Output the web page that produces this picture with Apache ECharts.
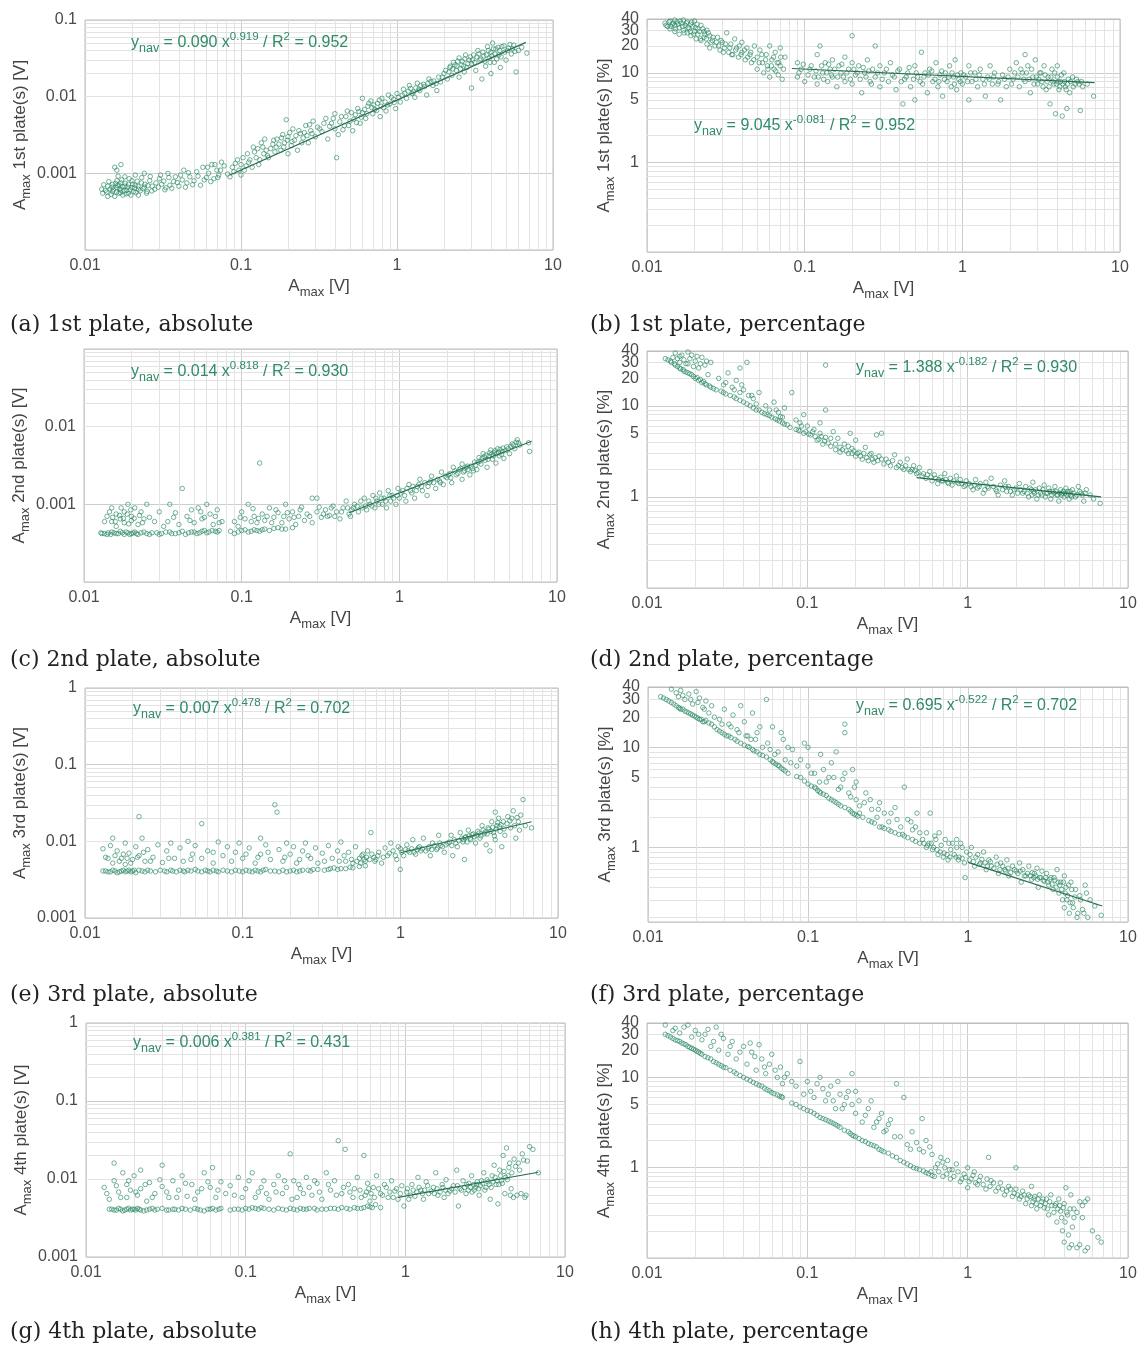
<!DOCTYPE html>
<html><head><meta charset="utf-8">
<script src="https://cdn.jsdelivr.net/npm/echarts@6/dist/echarts.min.js"></script>
<style>html,body{margin:0;padding:0;background:#fff}#c{width:1144px;height:1347px}</style>
</head><body><div id="c"></div>
<script>
// ---------------- DATA ----------------
const X_RANGE = [0.01, 10];
const X_TICK_LABELS = [0.01, 0.1, 1, 10];

const yRangeA = [0.0001, 0.1], yTicksA = [0.1, 0.01, 0.001];
const yRangeB = [0.1, 40],     yTicksB = [1, 5, 10, 20, 30, 40];
const yRangeC = [0.0001, 0.1], yTicksC = [0.01, 0.001];
const yRangeD = [0.1, 40],     yTicksD = [1, 5, 10, 20, 30, 40];
const yRangeE = [0.001, 1],    yTicksE = [1, 0.1, 0.01, 0.001];
const yRangeF = [0.18, 40],    yTicksF = [1, 5, 10, 20, 30, 40];
const yRangeG = [0.001, 1],    yTicksG = [1, 0.1, 0.01, 0.001];
const yRangeH = [0.1, 40],     yTicksH = [1, 5, 10, 20, 30, 40];

const ptsA = [[0.013,0.00055],[0.0135,0.0006],[0.014,0.0005],[0.014,0.00068],[0.0145,0.00062],[0.015,0.00058],[0.015,0.00072],[0.0155,0.0005],[0.0155,0.0012],[0.016,0.00065],[0.016,0.0008],[0.016,0.0011],[0.0165,0.00055],[0.0165,0.0007],[0.017,0.0006],[0.017,0.00075],[0.017,0.0013],[0.0175,0.00052],[0.018,0.00068],[0.018,0.0009],[0.0185,0.0006],[0.019,0.00072],[0.019,0.00055],[0.02,0.00065],[0.02,0.0008],[0.0205,0.00058],[0.021,0.0007],[0.021,0.00095],[0.022,0.00062],[0.022,0.00052],[0.023,0.00075],[0.024,0.00066],[0.024,0.001],[0.025,0.00058],[0.026,0.0008],[0.027,0.00068],
[0.028,0.00062],[0.03,0.00085],[0.031,0.00072],[0.033,0.00065],[0.034,0.001],[0.035,0.0007],[0.037,0.00078],[0.038,0.0009],[0.04,0.00068],[0.042,0.00082],[0.043,0.0011],[0.045,0.00075],[0.047,0.0009],[0.05,0.0008],[0.052,0.00105],[0.055,0.0007],[0.057,0.0012],[0.06,0.00088],[0.062,0.001],[0.065,0.0013],[0.067,0.00085],[0.07,0.0011],[0.072,0.00095],[0.075,0.0014],
[0.085,0.0009],[0.088,0.0012],[0.09,0.00105],[0.095,0.0015],[0.1,0.00095],[0.1,0.0013],[0.105,0.0011],[0.11,0.0018],[0.112,0.0014],[0.118,0.0012],[0.12,0.0022],[0.125,0.0016],[0.13,0.0013],[0.135,0.0025],[0.14,0.0018],[0.145,0.002],[0.15,0.0016],
[0.16,0.0024],[0.165,0.0019],[0.17,0.0028],[0.18,0.002],[0.185,0.0032],[0.19,0.0025],[0.195,0.005],[0.2,0.0018],[0.2,0.003],[0.21,0.0023],[0.215,0.0038],[0.22,0.0027],[0.23,0.002],[0.24,0.0033],[0.25,0.0029],[0.26,0.0042],[0.27,0.0025],[0.28,0.0036],[0.29,0.0048],[0.3,0.003],
[0.31,0.004],[0.33,0.0035],[0.35,0.0052],[0.36,0.0028],[0.38,0.0045],[0.4,0.0038],[0.4,0.006],[0.41,0.0016],[0.42,0.0032],[0.44,0.0055],[0.46,0.0042],[0.48,0.0065],[0.5,0.0048],[0.52,0.0036],[0.54,0.0058],[0.56,0.007],[0.58,0.0045],[0.6,0.0062],[0.6,0.0095],
[0.63,0.0052],[0.65,0.0075],[0.68,0.0088],[0.7,0.006],[0.72,0.0068],[0.75,0.0082],[0.78,0.0055],[0.8,0.0095],[0.82,0.0072],[0.85,0.0065],[0.88,0.0105],[0.9,0.008],[0.95,0.0092],[0.98,0.007],
[1,0.011],[1.05,0.0085],[1.1,0.0125],[1.15,0.0095],[1.2,0.014],[1.25,0.011],[1.3,0.0098],[1.35,0.015],[1.4,0.012],[1.5,0.0135],[1.55,0.0105],[1.6,0.017],[1.7,0.014],[1.8,0.012],[1.85,0.018],[1.9,0.0155],[2,0.02],
[2.1,0.017],[2.2,0.025],[2.25,0.019],[2.3,0.028],[2.4,0.022],[2.5,0.032],[2.5,0.018],[2.6,0.026],[2.7,0.021],[2.75,0.035],[2.8,0.024],[2.9,0.03],[3,0.027],[3,0.013],
[3.1,0.035],[3.2,0.022],[3.3,0.04],[3.4,0.03],[3.5,0.017],[3.6,0.034],[3.7,0.025],[3.8,0.045],[3.9,0.032],[4,0.038],[4,0.02],[4.1,0.05],[4.2,0.028],[4.3,0.042],[4.5,0.035],[4.6,0.024],[4.7,0.045],[4.9,0.038],[5,0.03],
[5.2,0.043],[5.4,0.036],[5.6,0.047],[5.8,0.021],[6,0.04],[6.3,0.044],[6.8,0.037],
[0.0128,0.00062],[0.0132,0.00071],[0.0138,0.00057],[0.0142,0.00078],[0.0147,0.00053],[0.0149,0.00066],[0.0152,0.00061],[0.0157,0.00074],[0.0159,0.00057],[0.0161,0.00069],[0.0163,0.00092],[0.0167,0.00063],[0.0169,0.00056],[0.0172,0.00082],[0.0174,0.00067],[0.0178,0.00059],[0.0181,0.00074],[0.0183,0.00054],[0.0188,0.00066],[0.0192,0.00085],[0.0194,0.00061],[0.0197,0.00052],[0.0202,0.00072],[0.0208,0.00064],[0.0212,0.00056],[0.0216,0.00079],[0.0219,0.00068],[0.0226,0.00059],[0.0231,0.00088],[0.0236,0.00063],[0.0242,0.00072],[0.0248,0.00055],[0.0253,0.00069],[0.0262,0.00091],[0.0268,0.00059],
[0.0285,0.00075],[0.0295,0.00066],[0.0305,0.00095],[0.032,0.00079],[0.0325,0.00061],[0.0345,0.00088],[0.036,0.00064],[0.039,0.00076],[0.041,0.00095],[0.044,0.00066],[0.046,0.00102],[0.049,0.00071],[0.053,0.00092],[0.058,0.00082],[0.061,0.0012],[0.064,0.00078],[0.068,0.0013],[0.071,0.00088],[0.074,0.0011],[0.078,0.00125],
[0.082,0.00098],[0.092,0.00135],[0.097,0.0011],[0.103,0.0016],[0.108,0.00125],[0.114,0.0015],[0.122,0.0019],[0.128,0.0021],[0.132,0.0015],[0.138,0.0022],[0.142,0.0028],[0.148,0.0017],[0.155,0.0021],[0.162,0.0027],[0.168,0.0022],[0.175,0.0024],[0.182,0.0029],[0.188,0.0022],[0.198,0.0027],[0.205,0.0034],[0.212,0.0026],[0.225,0.0031],[0.235,0.0036],[0.245,0.0025],[0.255,0.0034],[0.265,0.0031],[0.275,0.0043],[0.285,0.0033],[0.32,0.0038],[0.34,0.0045],[0.37,0.0041],[0.39,0.0052],[0.43,0.0047],[0.45,0.0037],[0.47,0.0055],[0.49,0.0042],[0.51,0.0062],[0.53,0.0051],[0.55,0.0046],[0.57,0.0064],[0.59,0.0054],[0.62,0.0068],[0.64,0.006],[0.66,0.0082],[0.69,0.0072],[0.71,0.0078],[0.74,0.0066],[0.77,0.009],[0.79,0.0075],[0.84,0.0085],[0.87,0.0078],[0.92,0.0098],[0.96,0.0084],
[1.02,0.0098],[1.08,0.0105],[1.12,0.011],[1.18,0.0118],[1.22,0.0128],[1.28,0.0115],[1.32,0.013],[1.38,0.0125],[1.42,0.014],[1.48,0.0145],[1.58,0.015],[1.65,0.0158],[1.72,0.016],[1.78,0.0148],[1.95,0.018],[2.05,0.022],[2.15,0.021],[2.18,0.024],[2.28,0.023],[2.35,0.026],[2.42,0.025],[2.45,0.029],[2.55,0.023],[2.62,0.029],[2.68,0.025],[2.72,0.031],[2.85,0.027],[2.95,0.033],[3.05,0.03],[3.15,0.028],[3.25,0.033],[3.35,0.036],[3.45,0.031],[3.55,0.038],[3.65,0.029],[3.75,0.035],[3.85,0.04],[3.95,0.028],[4.05,0.034],[4.15,0.042],[4.25,0.036],[4.35,0.031],[4.45,0.044],[4.55,0.04],[4.65,0.033],[4.85,0.046],[5.1,0.04],[5.3,0.048],[5.5,0.042],[5.7,0.039]];

const ptsB = [[0.013,36],[0.0135,33],[0.014,38],[0.014,31],[0.0145,35],[0.015,39],[0.015,29],[0.015,34],[0.0155,37],[0.016,32],[0.016,27],[0.0165,36],[0.017,30],[0.017,39],[0.0175,34],[0.018,28],[0.018,37],[0.0185,31],[0.019,35],[0.019,26],[0.0195,33],[0.02,29],[0.02,38],[0.0205,24],[0.021,31],[0.021,27],[0.022,34],[0.022,23],[0.023,29],[0.023,25],[0.024,21],[0.024,30],[0.025,26],[0.025,19],
[0.026,23],[0.027,20],[0.028,25],[0.029,18],[0.03,22],[0.031,19],[0.032,28],[0.033,17],[0.034,21],[0.035,16],[0.036,24],[0.037,19],[0.038,15],[0.04,17],[0.04,22],[0.042,14],[0.043,19],[0.045,16],[0.046,13],[0.048,20],[0.05,15],[0.05,11],
[0.052,18],[0.054,13],[0.055,10],[0.057,16],[0.058,12],[0.06,20],[0.06,9],[0.062,14],[0.064,11],[0.065,17],[0.067,13],[0.068,9.5],[0.07,19],[0.07,12],[0.072,8.5],[0.075,15],[0.09,13],[0.09,9],[0.095,11],[0.1,8],
[0.11,12],[0.115,9],[0.12,16],[0.12,7.5],[0.125,20],[0.13,10],[0.135,13],[0.14,8],[0.145,11],[0.15,14],[0.15,9],[0.16,7],[0.165,12],[0.17,10],[0.18,15],[0.18,8],[0.19,11],[0.2,26],[0.2,13],[0.2,7.5],[0.21,9.5],[0.22,12],[0.23,6],[0.24,10],[0.25,14],[0.26,8],[0.27,11],[0.28,20],[0.28,9],[0.3,12],[0.3,7],
[0.32,10],[0.34,8],[0.35,13],[0.37,9],[0.38,6.5],[0.4,11],[0.42,4.5],[0.43,8.5],[0.45,10],[0.47,7],[0.5,12],[0.5,5],[0.52,9],[0.55,17],[0.56,7.5],[0.58,10],[0.6,6],[0.62,11],[0.65,8],[0.68,13],[0.7,7],[0.72,9.5],[0.75,5.5],[0.78,10],[0.8,8],[0.83,12],[0.85,7],[0.88,9],[0.9,14],[0.92,6.5],[0.95,8.5],[0.98,10],
[1,7.5],[1.05,9],[1.1,12],[1.1,5],[1.15,8],[1.2,10],[1.25,7],[1.3,11],[1.35,8.5],[1.4,5.5],[1.45,9],[1.5,12],[1.55,7.5],[1.6,10],[1.7,8],[1.75,5],[1.8,9.5],[1.9,7],[2,11],[2.1,8.5],[2.2,13],[2.3,7],[2.4,10],[2.5,16],[2.5,8],[2.6,12],[2.7,6],[2.8,9],[2.9,14],[3,7.5],
[3.1,10],[3.2,8],[3.3,12],[3.4,6.5],[3.5,9],[3.6,4.5],[3.7,11],[3.8,7.5],[3.9,3.5],[4,9],[4,12],[4.1,6.5],[4.2,8],[4.3,3.3],[4.4,10],[4.5,7],[4.6,4],[4.7,8.5],[4.8,6],[5,9],[5.2,7.5],[5.4,8],[5.6,3.8],[5.8,7],[6.2,7.5],[6.8,5.5],
[0.0132,34],[0.0138,37],[0.0142,33],[0.0147,36],[0.0152,31],[0.0158,35],[0.0162,38],[0.0168,33],[0.0172,28],[0.0178,36],[0.0182,32],[0.0188,29],[0.0192,37],[0.0198,27],[0.0203,32],[0.0208,35],[0.0215,29],[0.0218,24],[0.0226,31],[0.0232,27],[0.0238,24],[0.0245,28],[0.0255,22],[0.0262,25],[0.0275,22],[0.0285,20],[0.0295,23],[0.0305,17],[0.0315,21],[0.0335,19],[0.0345,16],[0.0365,18],[0.0385,20],[0.0395,16],[0.0415,18],[0.0435,15],[0.0455,17],[0.0475,14],[0.0515,13],[0.0535,16],[0.0565,14],[0.0585,11],[0.0615,12],[0.0635,15],[0.0655,10.5],[0.0685,13],[0.0705,15],[0.0735,11],
[0.092,10],[0.098,12.5],[0.105,9.5],[0.108,11],[0.118,10.5],[0.122,9],[0.128,12],[0.132,8.5],[0.138,10],[0.142,12.5],[0.148,9.5],[0.155,11],[0.162,9],[0.172,12.5],[0.176,9],[0.185,10],[0.195,8.5],[0.205,11],[0.215,10],[0.225,8.5],[0.235,11.5],[0.245,9],[0.255,10.5],[0.265,7.5],[0.29,10],[0.31,8.5],[0.33,11],[0.36,9.5],[0.39,10.5],[0.41,8],[0.44,9],[0.46,11.5],[0.49,8.5],[0.51,10],[0.54,8],[0.57,9],[0.61,9.5],[0.64,10.5],[0.67,8.5],[0.71,8],[0.74,10.5],[0.77,8.5],[0.82,9],[0.86,10],[0.89,7.5],[0.93,9.5],[0.97,8],
[1.02,9.5],[1.08,8],[1.13,10],[1.22,8.5],[1.28,9.5],[1.38,7.5],[1.48,8.5],[1.58,9],[1.68,7.5],[1.85,8.5],[1.95,9],[2.05,7.5],[2.15,10],[2.25,9],[2.35,11],[2.45,8.5],[2.55,10],[2.65,8.5],[2.75,11],[2.85,7.5],[2.95,9],[3.05,8.5],[3.15,10],[3.25,7],[3.35,9.5],[3.45,8],[3.55,7],[3.65,9],[3.75,8],[3.85,10],[3.95,7.5],[4.05,8],[4.15,7],[4.25,9.5],[4.35,7.5],[4.45,8],[4.55,6.5],[4.65,7.5],[4.85,8],[5.05,7],[5.3,8.5],[5.5,7.5],[5.7,8]];

const ptsC = [[0.013,0.00042],[0.014,0.00041],[0.015,0.00044],[0.016,0.00042],[0.017,0.00045],[0.018,0.00041],[0.019,0.00043],[0.02,0.00042],[0.021,0.00044],[0.022,0.00041],[0.023,0.00043],[0.025,0.00042],
[0.014,0.0007],[0.015,0.0006],[0.015,0.0009],[0.016,0.00075],[0.016,0.00052],[0.017,0.00065],[0.018,0.0008],[0.018,0.00058],[0.019,0.001],[0.02,0.0007],[0.02,0.00062],[0.021,0.0009],[0.022,0.00055],[0.023,0.0008],[0.024,0.00065],[0.025,0.001],
[0.027,0.00043],[0.03,0.00041],[0.033,0.00044],[0.036,0.00042],[0.04,0.00043],[0.044,0.00041],[0.048,0.00044],[0.052,0.00042],[0.056,0.00045],[0.06,0.00043],[0.065,0.00046],[0.07,0.00044],
[0.028,0.0006],[0.03,0.0008],[0.032,0.00052],[0.035,0.001],[0.037,0.00068],[0.04,0.00055],[0.042,0.0016],[0.045,0.0007],[0.048,0.00085],[0.05,0.00058],[0.053,0.0009],[0.056,0.00065],[0.06,0.001],[0.063,0.00075],[0.066,0.00055],[0.07,0.00085],[0.075,0.0006],
[0.085,0.00045],[0.09,0.00042],[0.1,0.00046],[0.11,0.00044],[0.12,0.00047],[0.13,0.00045],[0.14,0.00048],[0.15,0.00046],[0.17,0.0005],[0.19,0.00048],
[0.09,0.0006],[0.095,0.00052],[0.1,0.0008],[0.105,0.00065],[0.11,0.001],[0.12,0.0007],[0.125,0.00058],[0.13,0.0034],[0.135,0.00075],[0.14,0.00062],[0.15,0.0009],[0.16,0.00068],[0.17,0.00078],[0.18,0.00058],[0.19,0.001],[0.2,0.00065],
[0.21,0.0008],[0.22,0.00055],[0.23,0.0007],[0.24,0.00092],[0.25,0.00062],[0.26,0.00075],[0.28,0.0012],[0.28,0.00058],[0.3,0.0012],[0.3,0.0008],[0.32,0.00068],[0.34,0.00085],[0.36,0.00072],[0.38,0.00095],[0.4,0.0008],[0.42,0.00065],[0.44,0.0009],[0.46,0.0011],[0.48,0.00075],[0.5,0.00085],
[0.52,0.001],[0.55,0.0008],[0.58,0.0009],[0.6,0.0012],[0.62,0.00085],[0.65,0.001],[0.68,0.0013],[0.7,0.0009],[0.72,0.0011],[0.75,0.0014],[0.78,0.001],[0.8,0.0012],[0.83,0.0009],[0.85,0.0015],[0.88,0.0011],[0.9,0.0013],[0.95,0.001],[0.98,0.0016],
[1,0.0012],[1.05,0.0015],[1.1,0.0011],[1.15,0.0018],[1.2,0.0014],[1.25,0.0012],[1.3,0.0017],[1.35,0.0021],[1.4,0.0015],[1.5,0.0013],[1.55,0.0019],[1.6,0.0023],[1.7,0.0016],[1.8,0.002],[1.85,0.0026],[1.9,0.0018],[2,0.0022],
[2.1,0.0025],[2.15,0.0019],[2.2,0.003],[2.3,0.0024],[2.4,0.0028],[2.5,0.0021],[2.5,0.0033],[2.6,0.0027],[2.7,0.0031],[2.8,0.0024],[2.9,0.0029],[3,0.0035],
[3.1,0.0028],[3.2,0.004],[3.3,0.0033],[3.4,0.0045],[3.5,0.0037],[3.6,0.003],[3.7,0.0042],[3.8,0.005],[3.9,0.0038],[4,0.0046],[4.1,0.0034],[4.2,0.0052],[4.3,0.0042],[4.5,0.0048],[4.6,0.0039],[4.8,0.0055],[5,0.0045],[5.2,0.006],[5.4,0.0052],[5.6,0.0068],[5.8,0.0058],[6.6,0.0062],[6.7,0.0048],
[0.0128,0.00043],[0.0135,0.00042],[0.0142,0.00043],[0.0148,0.00041],[0.0155,0.00043],[0.0165,0.00042],[0.0175,0.00043],[0.0185,0.00044],[0.0195,0.00041],[0.0205,0.00043],[0.0215,0.00042],[0.024,0.00044],[0.026,0.00041],[0.029,0.00043],[0.031,0.00042],[0.035,0.00044],[0.038,0.00042],[0.042,0.00045],[0.046,0.00043],[0.05,0.00044],[0.054,0.00043],[0.058,0.00046],[0.062,0.00044],[0.068,0.00045],[0.072,0.00046],[0.095,0.00044],[0.105,0.00047],[0.115,0.00045],[0.125,0.00046],[0.135,0.00047],[0.16,0.00049],[0.18,0.00048],[0.21,0.0005],
[0.0135,0.0006],[0.0145,0.0008],[0.0152,0.00068],[0.0158,0.0006],[0.0168,0.00072],[0.0172,0.0009],[0.0178,0.00066],[0.0188,0.00075],[0.0192,0.00056],[0.0198,0.00085],[0.0208,0.00066],[0.0225,0.00072],[0.0235,0.00058],[0.026,0.00068],[0.034,0.0006],[0.038,0.00078],[0.047,0.00062],[0.055,0.0008],[0.058,0.00068],[0.068,0.0007],[0.072,0.00058],[0.098,0.00068],[0.115,0.0006],[0.118,0.00088],[0.128,0.00066],[0.145,0.0007],[0.155,0.00058],[0.165,0.00085],[0.185,0.0007],[0.195,0.00078],[0.215,0.00068],[0.235,0.00085],[0.27,0.0007],[0.31,0.00092],[0.33,0.00075],[0.35,0.0007],[0.37,0.0009],[0.39,0.0007],[0.43,0.0008],[0.47,0.0009],[0.49,0.0007],
[0.51,0.0009],[0.54,0.00095],[0.57,0.0011],[0.61,0.00095],[0.64,0.0011],[0.67,0.00095],[0.71,0.0012],[0.74,0.001],[0.77,0.0012],[0.82,0.0011],[0.87,0.0013],[0.92,0.0012],[0.97,0.0013],[1.02,0.0014],[1.08,0.0013],[1.12,0.0016],[1.18,0.0015],[1.22,0.0017],[1.28,0.0015],[1.33,0.0018],[1.38,0.0017],[1.45,0.0019],[1.52,0.0017],[1.58,0.002],[1.65,0.0019],[1.75,0.0021],[1.82,0.0019],[1.95,0.0023],[2.05,0.0024],[2.12,0.0022],[2.25,0.0027],[2.35,0.0025],[2.45,0.0029],[2.55,0.0026],[2.65,0.003],[2.72,0.0028],[2.85,0.0031],[2.95,0.0027],[3.05,0.0032],[3.15,0.0035],[3.25,0.0036],[3.35,0.0039],[3.45,0.0041],[3.55,0.0043],[3.65,0.0038],[3.75,0.0046],[3.85,0.0044],[3.95,0.0042],[4.05,0.0049],[4.15,0.0045],[4.25,0.0047],[4.35,0.0051],[4.45,0.0044],[4.55,0.0053],[4.7,0.0049],[4.9,0.0052],[5.1,0.0056],[5.3,0.0058],[5.5,0.0063],[5.7,0.0062]];

const ptsD = [[0.013,33],[0.014,31],[0.015,28],[0.016,26],[0.017,24],[0.018,23],[0.019,22],[0.02,20],[0.021,19],[0.022,18],[0.023,17.5],[0.025,16],
[0.015,38],[0.016,35],[0.017,32],[0.018,29],[0.019,36],[0.02,31],[0.021,26],[0.022,34],[0.023,28],[0.024,22],[0.025,30],[0.016,30],[0.0145,34],[0.018,39],
[0.027,15],[0.03,14],[0.033,13],[0.036,12],[0.04,11],[0.044,10],[0.048,9],
[0.028,20],[0.03,17],[0.032,23],[0.034,16],[0.036,19],[0.038,14],[0.04,15],[0.042,30],[0.043,13],[0.046,12],[0.05,14],[0.048,10.5],[0.038,26],
[0.052,8.5],[0.056,8],[0.06,7.5],[0.065,7],[0.07,6.5],[0.075,6.2],[0.085,5.5],[0.09,5.3],[0.095,5],
[0.055,10],[0.058,9],[0.062,11],[0.066,8.5],[0.07,7.5],[0.072,9.5],[0.08,14],[0.085,7],[0.09,6.5],[0.095,8],[0.1,6],
[0.105,4.8],[0.11,5.5],[0.115,4.2],[0.12,5],[0.12,6.5],[0.125,3.8],[0.13,9],[0.13,4.5],[0.13,28],[0.14,3.6],[0.145,5.2],[0.15,3.3],[0.155,4.4],[0.16,3.1],[0.17,3.8],[0.18,3.0],[0.185,5],[0.19,3.4],[0.2,2.8],[0.2,4.2],
[0.21,3.1],[0.22,2.6],[0.23,3.5],[0.24,2.5],[0.25,3],[0.26,2.4],[0.27,4.8],[0.28,2.8],[0.29,5],[0.3,2.3],[0.31,2.6],[0.33,2.2],[0.35,2.9],[0.36,2.1],[0.38,2.4],[0.4,2],[0.42,2.6],[0.44,1.9],[0.46,2.2],[0.48,1.8],[0.5,2.1],
[0.52,1.7],[0.55,1.6],[0.58,1.9],[0.6,1.5],[0.62,1.75],[0.65,1.4],[0.68,1.65],[0.7,1.5],[0.72,1.8],[0.75,1.45],[0.78,1.6],[0.8,1.35],[0.85,1.7],[0.88,1.4],[0.9,1.55],[0.95,1.3],[0.98,1.5],
[1.02,1.4],[1.08,1.2],[1.12,1.55],[1.18,1.3],[1.25,1.1],[1.3,1.45],[1.35,1.25],[1.4,1.6],[1.5,1.2],[1.55,1.05],[1.6,1.35],[1.7,1.5],[1.75,1.15],[1.8,1.3],[1.9,1.05],[2,1.25],[2.1,1.4],[2.2,1.1],[2.3,1.3],[2.4,1.0],[2.5,1.2],[2.55,1.45],[2.6,1.1],[2.7,0.95],[2.8,1.25],[2.9,1.05],[3,1.35],
[3.1,1.1],[3.2,1.25],[3.3,0.95],[3.4,1.15],[3.5,1.3],[3.6,1.05],[3.7,0.9],[3.8,1.2],[3.9,1.1],[4,1.0],[4.1,1.25],[4.2,1.15],[4.3,0.95],[4.4,1.05],[4.5,1.2],[4.7,1.0],[4.9,1.3],[5.1,1.1],[5.3,0.9],[5.5,1.2],[5.8,1.05],[6.1,0.95],[6.7,0.85],
[0.0135,32],[0.0142,30],[0.0148,29],[0.0155,27],[0.0162,25.5],[0.0168,25],[0.0175,23.5],[0.0185,22.5],[0.0195,21],[0.0205,20.5],[0.0215,19.5],[0.0225,18.5],[0.0235,17],[0.0245,16.5],[0.026,15.5],[0.0155,33],[0.0165,36],[0.0175,29],[0.0185,33],[0.0195,27],[0.0205,35],[0.0215,29],[0.0235,31],
[0.029,14.5],[0.031,13.5],[0.035,12.5],[0.038,11.5],[0.042,10.5],[0.046,9.5],[0.05,9],[0.031,18],[0.035,15],[0.039,17],[0.045,13],[0.054,8.2],[0.058,7.8],[0.063,7.2],[0.067,6.8],[0.072,6.3],[0.068,7.6],[0.064,9],[0.078,5.8],[0.088,5.4],[0.092,6],[0.098,5.2],
[0.102,4.9],[0.108,5.2],[0.112,4.6],[0.118,4.3],[0.122,4.6],[0.128,4.1],[0.135,3.9],[0.14,4.4],[0.15,3.8],[0.16,3.5],[0.165,3.3],[0.175,3.2],[0.18,3.6],[0.19,3],[0.195,3.2],[0.205,3],[0.215,2.8],[0.225,3],[0.235,2.7],[0.245,2.9],[0.255,2.6],[0.265,2.7],[0.275,2.5],[0.29,2.6],[0.32,2.4],[0.34,2.5],[0.37,2.2],[0.39,2.1],[0.41,2.2],[0.43,2.0],[0.45,2.0],[0.47,1.95],[0.49,1.85],
[0.53,1.8],[0.56,1.75],[0.59,1.65],[0.63,1.6],[0.66,1.55],[0.69,1.5],[0.73,1.55],[0.76,1.4],[0.82,1.5],[0.86,1.45],[0.92,1.4],[0.97,1.35],[1.05,1.3],[1.1,1.35],[1.15,1.25],[1.2,1.4],[1.28,1.2],[1.33,1.3],[1.45,1.3],[1.52,1.15],[1.65,1.2],[1.72,1.3],[1.85,1.15],[1.95,1.2],[2.05,1.1],[2.15,1.2],[2.25,1.15],[2.35,1.1],[2.45,1.25],[2.52,1.05],[2.58,1.15],[2.65,1.2],[2.75,1.05],[2.85,1.1],[2.95,1.2],
[3.05,1.0],[3.15,1.1],[3.25,1.15],[3.35,1.05],[3.45,1.1],[3.55,1.15],[3.65,1.05],[3.75,1.1],[3.85,1.05],[3.95,1.15],[4.05,1.1],[4.15,1.05],[4.25,1.1],[4.35,1.15],[4.45,1.0],[4.6,1.1],[4.8,1.05],[5.0,1.15],[5.2,1.05],[5.4,1.1]];

const ptsE = [[0.013,0.0041],[0.014,0.004],[0.015,0.0042],[0.016,0.0039],[0.017,0.0041],[0.018,0.004],[0.019,0.0042],[0.02,0.0041],[0.021,0.0039],[0.022,0.0042],[0.024,0.004],[0.026,0.0041],[0.03,0.0042],[0.033,0.004],[0.036,0.0041],[0.04,0.0042],[0.043,0.004],[0.047,0.0041],[0.05,0.0043],[0.055,0.004],[0.06,0.0041],[0.065,0.0042],[0.07,0.004],[0.08,0.0041],[0.09,0.0042],[0.1,0.004],[0.11,0.0041],[0.12,0.0042],[0.13,0.004],[0.14,0.0043],[0.15,0.0041],[0.17,0.004],[0.18,0.0042],[0.2,0.0041],[0.22,0.004],[0.24,0.0042],[0.27,0.0041],[0.3,0.0043],[0.33,0.0042],[0.36,0.0044],[0.4,0.0043],[0.45,0.0044],[0.5,0.0045],
[0.013,0.008],[0.014,0.006],[0.015,0.011],[0.015,0.0052],[0.016,0.0075],[0.017,0.006],[0.018,0.0095],[0.018,0.005],[0.019,0.007],[0.02,0.0058],[0.021,0.0085],[0.022,0.021],[0.022,0.0065],[0.023,0.011],[0.024,0.0055],[0.025,0.0078],[0.027,0.0062],[0.029,0.009],[0.031,0.0053],[0.033,0.0075],[0.035,0.0095],[0.037,0.006],[0.04,0.0082],[0.042,0.0055],[0.045,0.01],[0.048,0.0068],[0.05,0.0088],[0.055,0.017],[0.055,0.006],[0.06,0.0075],[0.065,0.0052],[0.07,0.0098],[0.075,0.0065],[0.08,0.0085],[0.085,0.0055],[0.09,0.0072],[0.095,0.0095],[0.1,0.006],[0.11,0.0082],[0.12,0.0052],[0.13,0.011],[0.13,0.0068],[0.14,0.009],[0.15,0.0058],[0.16,0.03],[0.165,0.024],[0.17,0.0078],[0.18,0.0055],[0.19,0.0095],[0.2,0.0068],[0.21,0.0085],[0.22,0.0052],[0.24,0.0075],[0.25,0.0095],[0.27,0.006],[0.29,0.0082],[0.3,0.0052],[0.32,0.007],[0.35,0.0088],[0.37,0.006],[0.4,0.0075],[0.42,0.0098],[0.45,0.0055],[0.47,0.0072],[0.5,0.0052],[0.52,0.0085],[0.55,0.006],[0.58,0.0068],[0.6,0.0055],[0.62,0.0075],[0.65,0.013],[0.68,0.0062],[0.7,0.0058],[0.73,0.0072],[0.76,0.0052],[0.8,0.0082],[0.83,0.0065],[0.87,0.0095],[0.9,0.0075],[0.95,0.0058],[1,0.0043],[1,0.008],
[1.05,0.0065],[1.1,0.009],[1.15,0.0072],[1.2,0.0105],[1.25,0.0068],[1.3,0.0082],[1.35,0.0075],[1.4,0.011],[1.5,0.008],[1.55,0.0065],[1.6,0.0095],[1.7,0.0078],[1.75,0.012],[1.8,0.0088],[1.9,0.0072],[2,0.0095],
[2.1,0.012],[2.15,0.0065],[2.2,0.0105],[2.3,0.0085],[2.4,0.013],[2.5,0.0098],[2.55,0.0058],[2.6,0.0115],[2.7,0.014],[2.8,0.0105],[2.9,0.0125],[3,0.0095],
[3.1,0.0135],[3.2,0.011],[3.3,0.016],[3.4,0.0125],[3.5,0.009],[3.6,0.015],[3.7,0.0075],[3.8,0.018],[3.9,0.013],[4,0.024],[4,0.0105],[4.1,0.016],[4.2,0.02],[4.3,0.0135],[4.4,0.0085],[4.5,0.018],[4.6,0.012],[4.8,0.021],[5,0.015],[5.2,0.025],[5.4,0.011],[5.6,0.018],[5.8,0.022],[6,0.035],[6.2,0.016],[6.8,0.015],
[0.0135,0.0041],[0.0145,0.004],[0.0155,0.0041],[0.0165,0.004],[0.0175,0.0042],[0.0185,0.0041],[0.0195,0.004],[0.0205,0.0042],[0.023,0.0041],[0.025,0.0042],[0.028,0.004],[0.032,0.0041],[0.035,0.0042],[0.038,0.004],[0.042,0.0041],[0.045,0.0042],[0.052,0.0041],[0.058,0.0042],[0.062,0.004],[0.068,0.0041],[0.075,0.0042],[0.085,0.004],[0.095,0.0041],[0.105,0.0042],[0.115,0.004],[0.125,0.0041],[0.135,0.0042],[0.16,0.0041],[0.19,0.004],[0.21,0.0042],[0.23,0.0041],[0.26,0.0042],[0.28,0.0043],[0.35,0.0043],[0.38,0.0045],[0.42,0.0044],[0.48,0.0046],[0.55,0.0047],[0.6,0.0048],
[0.0135,0.0062],[0.0145,0.0088],[0.0155,0.0065],[0.0165,0.0055],[0.0175,0.0068],[0.0185,0.006],[0.0195,0.0052],[0.0215,0.0062],[0.0235,0.0072],[0.026,0.0055],[0.034,0.006],[0.047,0.0058],[0.065,0.0072],[0.105,0.0068],[0.125,0.0062],[0.145,0.0072],[0.185,0.0062],[0.23,0.0058],[0.26,0.0065],[0.33,0.0055],[0.41,0.0055],[0.44,0.0065],[0.49,0.0058],[0.53,0.0055],[0.56,0.0052],[0.57,0.0065],[0.59,0.0058],[0.61,0.0062],[0.64,0.0058],[0.66,0.0068],[0.69,0.0055],[0.72,0.0065],[0.78,0.0062],[0.85,0.007],[0.93,0.0065],[0.97,0.0085],
[1.02,0.0072],[1.08,0.0078],[1.12,0.0075],[1.18,0.008],[1.22,0.0072],[1.28,0.0078],[1.32,0.0085],[1.38,0.008],[1.45,0.0075],[1.52,0.0085],[1.58,0.0078],[1.65,0.0088],[1.72,0.0082],[1.78,0.0095],[1.85,0.0085],[1.95,0.009],[2.05,0.0098],[2.12,0.0088],[2.25,0.0095],[2.35,0.0102],[2.45,0.011],[2.52,0.0105],[2.58,0.0112],[2.65,0.0098],[2.72,0.0118],[2.78,0.011],[2.85,0.0122],[2.95,0.0115],[3.05,0.012],[3.15,0.0128],[3.25,0.0118],[3.35,0.014],[3.45,0.0132],[3.55,0.0125],[3.65,0.0145],[3.75,0.0135],[3.85,0.0152],[3.95,0.0118],[4.05,0.0145],[4.15,0.0175],[4.25,0.0155],[4.35,0.0165],[4.55,0.0145],[4.75,0.017],[4.95,0.0185],[5.1,0.02],[5.3,0.016],[5.5,0.0205],[5.7,0.014]];

const ptsF = [[0.012,32],[0.013,30],[0.014,28],[0.015,26],[0.0155,25],[0.016,24],[0.017,23],[0.018,22],[0.019,21],[0.02,20],[0.021,19],[0.022,18],[0.023,18.5],[0.025,17],
[0.014,38],[0.015,35],[0.0155,32],[0.016,37],[0.017,30],[0.018,34],[0.019,27],[0.02,36],[0.021,31],[0.022,25],[0.023,29],[0.024,22],[0.025,26],
[0.027,15],[0.029,14],[0.031,13],[0.033,12.5],[0.036,11.5],[0.04,10.5],[0.043,10],[0.046,9.2],[0.05,8.5],
[0.028,19],[0.03,24],[0.032,17],[0.034,21],[0.036,15],[0.038,26],[0.04,18],[0.042,13],[0.045,22],[0.047,12],[0.05,16],[0.055,30],
[0.055,8],[0.06,7.2],[0.063,6.8],[0.066,6.5],[0.07,6],[0.075,5.5],[0.09,5],[0.095,4.6],[0.1,4.3],
[0.056,11],[0.06,16],[0.065,9],[0.068,14],[0.07,12],[0.075,10],[0.08,9.5],[0.09,7.5],[0.095,11],[0.1,10],[0.1,6.5],
[0.11,4],[0.115,3.7],[0.12,3.5],[0.13,3.3],[0.14,3],[0.15,2.8],[0.16,2.6],[0.18,2.4],[0.19,2.2],[0.2,2.1],
[0.11,5.5],[0.12,8.5],[0.125,6],[0.13,4.5],[0.14,7],[0.145,5],[0.15,9],[0.16,4],[0.17,17],[0.17,14],[0.17,5.5],[0.18,3.5],[0.19,6],[0.2,4.5],[0.2,3],
[0.22,2],[0.25,1.8],[0.28,1.6],[0.3,1.55],[0.33,1.45],[0.37,1.35],[0.4,1.3],[0.45,1.2],[0.5,1.1],
[0.21,2.6],[0.23,3.5],[0.25,2.4],[0.27,2],[0.28,2.8],[0.3,2.2],[0.32,1.8],[0.35,2.5],[0.38,1.6],[0.4,4],[0.42,1.9],[0.45,1.5],[0.48,2.2],[0.5,1.4],
[0.52,1.2],[0.55,1.0],[0.57,1.1],[0.58,2.2],[0.6,0.95],[0.62,1.3],[0.65,0.85],[0.68,1.05],[0.7,0.8],[0.72,1.2],[0.75,0.75],[0.78,0.95],[0.8,1.1],[0.82,0.85],[0.85,1.0],[0.88,0.8],[0.9,1.1],[0.95,0.7],[0.96,0.5],[0.98,0.9],
[1.02,0.75],[1.05,1.0],[1.1,0.65],[1.15,0.85],[1.2,0.7],[1.25,0.9],[1.3,0.6],[1.35,0.75],[1.4,0.65],[1.5,0.8],[1.55,0.55],[1.6,0.7],[1.7,0.6],[1.75,0.75],[1.8,0.52],[1.9,0.65],[2,0.58],[2.1,0.7],[2.15,0.45],[2.2,0.6],[2.3,0.52],[2.4,0.65],[2.5,0.48],[2.6,0.55],[2.7,0.62],[2.75,0.4],[2.8,0.5],[2.9,0.58],[3,0.46],
[3.1,0.55],[3.2,0.42],[3.3,0.5],[3.4,0.38],[3.5,0.47],[3.6,0.6],[3.7,0.35],[3.8,0.45],[3.9,0.3],[4,0.52],[4,0.25],[4.1,0.4],[4.2,0.33],[4.3,0.22],[4.4,0.45],[4.5,0.28],[4.7,0.38],[4.8,0.2],[5,0.33],[5.2,0.24],[5.4,0.42],[5.6,0.2],[5.8,0.3],[6.2,0.26],[6.8,0.21],
[0.0125,31],[0.0135,29],[0.0145,27],[0.0158,24.5],[0.0165,24],[0.0175,22.5],[0.0185,21.5],[0.0195,20.5],[0.0205,19.5],[0.0215,19],[0.0225,18],[0.024,17.5],[0.026,16],[0.028,14.5],[0.03,13.5],[0.032,13],[0.035,12],[0.038,11],[0.042,10.2],[0.045,9.5],[0.048,9],[0.052,8.3],[0.058,7.5],[0.061,7],[0.065,6.6],[0.068,6.2],[0.072,5.8],[0.085,5.1],[0.105,4.1],[0.112,3.9],[0.118,3.6],[0.125,3.4],[0.135,3.1],[0.145,2.9],[0.155,2.7],[0.17,2.5],[0.185,2.3],[0.195,2.15],[0.205,2.05],[0.21,2.2],[0.24,1.85],[0.26,1.75],[0.29,1.6],[0.32,1.5],[0.35,1.4],[0.39,1.35],[0.42,1.25],[0.47,1.15],[0.53,1.1],[0.56,1.05],[0.59,1.1],[0.61,1.0],[0.64,0.95],[0.67,0.9],[0.71,0.88],[0.74,0.85],[0.77,0.8],[0.84,0.8],[0.87,0.75],[0.92,0.78],
[0.0165,33],[0.0185,30],[0.0205,28],[0.0225,24],[0.026,20],[0.029,17],[0.033,16],[0.037,14],[0.041,13],[0.044,12],[0.048,14],[0.052,10],[0.058,9.5],[0.062,8.5],[0.072,7.5],[0.078,7],[0.085,6.5],[0.105,5.5],[0.118,4.5],[0.135,5],[0.155,3.8],[0.165,4.8],[0.185,3.2],[0.195,4],[0.225,2.8],[0.245,3],[0.275,2.4],[0.33,2.2],[0.36,1.9],[0.44,1.8],[0.47,1.6],[0.55,1.4],[0.63,1.2],[0.66,1.4],[0.76,1.1],[0.85,1.2],[0.92,1.0],
[1.03,0.85],[1.08,0.72],[1.12,0.8],[1.18,0.68],[1.22,0.76],[1.28,0.7],[1.32,0.65],[1.38,0.72],[1.45,0.62],[1.52,0.68],[1.58,0.6],[1.65,0.65],[1.72,0.58],[1.78,0.62],[1.85,0.56],[1.95,0.6],[2.05,0.55],[2.12,0.58],[2.25,0.52],[2.35,0.55],[2.45,0.52],[2.52,0.56],[2.58,0.5],[2.65,0.52],[2.72,0.48],[2.85,0.5],[2.95,0.47],[3.05,0.5],[3.15,0.45],[3.25,0.48],[3.35,0.43],[3.45,0.5],[3.55,0.4],[3.65,0.45],[3.75,0.42],[3.85,0.38],[3.95,0.45],[4.05,0.35],[4.15,0.3],[4.25,0.42],[4.35,0.28],[4.45,0.38],[4.55,0.25],[4.65,0.32],[4.85,0.22],[5.05,0.3],[5.3,0.22],[5.5,0.35]];

const ptsG = [[0.014,0.0041],[0.015,0.004],[0.016,0.0042],[0.017,0.0039],[0.018,0.0041],[0.019,0.004],[0.02,0.0041],[0.021,0.0042],[0.022,0.004],[0.023,0.0039],[0.025,0.0041],[0.027,0.004],[0.03,0.0042],[0.033,0.004],[0.036,0.0041],[0.04,0.0042],[0.045,0.004],[0.05,0.0041],[0.055,0.0039],[0.06,0.0041],[0.065,0.004],[0.07,0.0042],[0.08,0.004],[0.09,0.0041],[0.1,0.0042],[0.11,0.0043],[0.12,0.0041],[0.13,0.0042],[0.15,0.004],[0.17,0.0041],[0.19,0.0042],[0.21,0.004],[0.23,0.0041],[0.25,0.0042],[0.28,0.004],[0.32,0.0041],[0.36,0.0042],[0.4,0.0043],[0.45,0.0041],[0.5,0.0042],[0.55,0.0043],[0.6,0.0044],[0.7,0.0043],
[0.013,0.0078],[0.014,0.0055],[0.015,0.016],[0.015,0.0095],[0.016,0.0068],[0.017,0.012],[0.018,0.0058],[0.018,0.0085],[0.019,0.0072],[0.02,0.011],[0.021,0.0062],[0.022,0.013],[0.022,0.0075],[0.024,0.0052],[0.025,0.009],[0.027,0.0065],[0.03,0.015],[0.03,0.008],[0.033,0.0058],[0.035,0.0095],[0.038,0.0072],[0.04,0.011],[0.043,0.006],[0.046,0.0085],[0.05,0.0068],[0.055,0.012],[0.06,0.0078],[0.062,0.014],[0.065,0.0058],[0.07,0.0092],[0.075,0.0065],[0.08,0.0082],[0.09,0.0105],[0.095,0.0058],[0.1,0.0075],[0.11,0.012],[0.12,0.0068],[0.13,0.0095],[0.14,0.0055],[0.15,0.0085],[0.16,0.011],[0.17,0.0065],[0.18,0.0078],[0.19,0.021],[0.2,0.0095],[0.21,0.0058],[0.22,0.0075],[0.24,0.0105],[0.26,0.0062],[0.28,0.0088],[0.3,0.0055],[0.32,0.012],[0.34,0.0072],[0.36,0.0095],[0.38,0.031],[0.4,0.0065],[0.42,0.024],[0.44,0.0085],[0.47,0.0058],[0.5,0.0105],[0.52,0.0072],[0.55,0.02],[0.56,0.0062],[0.58,0.0088],[0.6,0.0052],[0.63,0.0078],[0.66,0.011],[0.7,0.0065],[0.74,0.0085],[0.78,0.0058],[0.82,0.0095],[0.86,0.007],[0.9,0.0055],[0.95,0.0082],[0.98,0.0045],
[1.02,0.0068],[1.05,0.0055],[1.1,0.0085],[1.15,0.006],[1.2,0.0105],[1.25,0.0072],[1.3,0.0055],[1.35,0.0092],[1.4,0.0065],[1.5,0.0078],[1.55,0.012],[1.6,0.0062],[1.7,0.0085],[1.75,0.0058],[1.8,0.0098],[1.9,0.007],[2,0.0082],[2.1,0.013],[2.15,0.0045],[2.2,0.0075],[2.3,0.0095],[2.4,0.0065],[2.5,0.0088],[2.6,0.011],[2.7,0.0072],[2.8,0.0085],[2.9,0.0062],[3,0.0095],
[3.1,0.012],[3.2,0.0078],[3.3,0.0092],[3.4,0.0055],[3.5,0.011],[3.6,0.015],[3.7,0.0085],[3.8,0.0048],[3.9,0.013],[4,0.0095],[4.1,0.02],[4.2,0.0065],[4.3,0.025],[4.4,0.011],[4.5,0.016],[4.6,0.0075],[4.8,0.018],[5,0.0062],[5.2,0.013],[5.4,0.021],[5.6,0.0058],[5.8,0.017],[6,0.026],[6.3,0.024],[6.8,0.012],
[0.0145,0.0041],[0.0155,0.004],[0.0165,0.0041],[0.0175,0.004],[0.0185,0.0042],[0.0195,0.0041],[0.0205,0.004],[0.0215,0.0041],[0.024,0.004],[0.026,0.0042],[0.028,0.0041],[0.032,0.004],[0.035,0.0041],[0.038,0.004],[0.042,0.0041],[0.048,0.0042],[0.052,0.004],[0.058,0.0041],[0.062,0.0042],[0.068,0.0041],[0.085,0.0041],[0.095,0.004],[0.105,0.0041],[0.115,0.0042],[0.125,0.0043],[0.14,0.0041],[0.16,0.0042],[0.18,0.004],[0.2,0.0041],[0.22,0.0042],[0.24,0.0041],[0.27,0.0042],[0.3,0.0041],[0.34,0.0042],[0.38,0.0041],[0.43,0.0042],[0.48,0.0043],[0.53,0.0042],[0.58,0.0045],[0.62,0.0043],[0.65,0.0047],
[0.0135,0.0065],[0.0155,0.0082],[0.0165,0.0058],[0.0185,0.0095],[0.0205,0.0068],[0.0235,0.0085],[0.026,0.0058],[0.029,0.0098],[0.032,0.0068],[0.037,0.0058],[0.042,0.0088],[0.048,0.0055],[0.053,0.0075],[0.058,0.0092],[0.067,0.0072],[0.085,0.0062],[0.105,0.0095],[0.115,0.0058],[0.125,0.0078],[0.135,0.0065],[0.155,0.0068],[0.175,0.0095],[0.195,0.0055],[0.215,0.0085],[0.23,0.0065],[0.25,0.0078],[0.27,0.0095],[0.29,0.0068],[0.33,0.0085],[0.37,0.0062],[0.41,0.0078],[0.45,0.0068],[0.48,0.0075],[0.53,0.0058],[0.57,0.0068],[0.59,0.0075],[0.61,0.0065],[0.64,0.0058],[0.68,0.0075],[0.72,0.0062],[0.76,0.0078],[0.8,0.0068],[0.84,0.0058],[0.88,0.0075],[0.93,0.0065],
[1.03,0.0075],[1.08,0.0062],[1.12,0.0072],[1.18,0.0068],[1.22,0.0078],[1.28,0.0065],[1.32,0.0072],[1.38,0.0082],[1.45,0.007],[1.52,0.0065],[1.58,0.0075],[1.65,0.0068],[1.72,0.0078],[1.78,0.0072],[1.85,0.0065],[1.95,0.0075],[2.05,0.0068],[2.12,0.0082],[2.25,0.0072],[2.35,0.0078],[2.42,0.0085],[2.48,0.0072],[2.55,0.0078],[2.62,0.0068],[2.68,0.0085],[2.75,0.0078],[2.82,0.0092],[2.88,0.0075],[2.95,0.0082],[3.05,0.0088],[3.15,0.0072],[3.25,0.0098],[3.35,0.0085],[3.45,0.0078],[3.55,0.0092],[3.65,0.0105],[3.75,0.0095],[3.85,0.0085],[3.95,0.011],[4.05,0.0088],[4.15,0.0125],[4.25,0.0105],[4.35,0.0098],[4.45,0.014],[4.55,0.0062],[4.65,0.012],[4.75,0.0058],[4.9,0.0145],[5.1,0.016],[5.3,0.0065],[5.5,0.0175],[5.7,0.0062]];

const ptsH = [[0.013,30],[0.014,28],[0.015,26],[0.016,25],[0.017,23.5],[0.018,22],[0.019,21],[0.02,20],[0.021,19],[0.022,18],[0.024,16.5],[0.026,15],[0.028,14],[0.03,13],[0.033,12],[0.036,11],[0.04,10],[0.044,9.2],[0.048,8.5],[0.052,8],[0.056,7.3],[0.06,6.8],[0.065,6.4],[0.07,6],[0.08,5.2],[0.09,4.7],[0.1,4.3],[0.11,4],[0.12,3.6],[0.13,3.4],[0.14,3.2],[0.15,3],[0.16,2.8],[0.18,2.5],[0.19,2.3],[0.2,2.2],[0.22,2],[0.24,1.85],[0.26,1.75],[0.28,1.6],[0.3,1.5],[0.34,1.35],[0.38,1.2],[0.42,1.1],[0.46,1.0],[0.5,0.95],[0.55,0.88],[0.6,0.82],
[0.013,38],[0.015,35],[0.016,31],[0.018,38],[0.019,28],[0.02,33],[0.022,26],[0.023,30],[0.025,22],[0.027,36],[0.028,20],[0.03,27],[0.032,18],[0.034,25],[0.036,16],[0.04,22],[0.042,14],[0.045,19],[0.048,12],[0.05,23],[0.052,16],[0.055,11],[0.058,14],[0.06,18],[0.065,10],[0.068,13],[0.07,8.5],[0.075,11],[0.085,8],[0.09,15],[0.095,6.5],[0.1,9],[0.11,6],[0.12,10],[0.125,7.5],[0.13,5.5],[0.14,8],[0.15,4.5],[0.16,6.5],[0.17,5],[0.18,7],[0.19,11],[0.2,4],[0.21,5.5],[0.22,3.2],[0.24,4.5],[0.26,2.8],[0.28,3.5],[0.3,2.5],[0.32,3],[0.36,8.5],[0.38,2.2],[0.4,6],[0.42,1.8],[0.45,2.5],[0.5,1.6],[0.52,3.5],[0.55,2],[0.6,1.4],
[0.65,1.1],[0.68,1.3],[0.7,0.8],[0.72,1.0],[0.75,1.2],[0.78,0.75],[0.8,0.95],[0.85,1.1],[0.9,0.7],[0.95,0.85],[1,0.6],[1,1.0],[1.05,0.75],[1.1,0.9],[1.15,0.65],[1.2,0.8],[1.3,0.58],[1.35,1.3],[1.4,0.72],[1.5,0.55],[1.6,0.68],[1.7,0.5],[1.8,0.62],[1.9,0.48],[2,0.58],[2,1.0],
[2.1,0.45],[2.2,0.55],[2.3,0.4],[2.4,0.5],[2.5,0.38],[2.5,0.62],[2.6,0.45],[2.7,0.35],[2.8,0.5],[2.9,0.42],[3,0.36],
[3.1,0.45],[3.2,0.3],[3.3,0.5],[3.5,0.38],[3.6,0.25],[3.7,0.45],[3.8,0.33],[3.9,0.2],[4,0.4],[4,0.15],[4.1,0.6],[4.2,0.3],[4.3,0.13],[4.4,0.5],[4.5,0.22],[4.6,0.35],[4.8,0.13],[5,0.42],[5.2,0.28],[5.4,0.12],[5.6,0.45],[6,0.2],[6.5,0.17],[6.8,0.15],
[0.0135,29],[0.0145,27],[0.0155,25.5],[0.0165,24],[0.0175,23],[0.0185,21.5],[0.0195,20.5],[0.0205,19.5],[0.0215,18.5],[0.023,17],[0.025,16],[0.027,14.5],[0.029,13.5],[0.031,12.8],[0.035,11.5],[0.038,10.5],[0.042,9.6],[0.046,8.8],[0.05,8.2],[0.054,7.6],[0.058,7.1],[0.062,6.6],[0.067,6.2],[0.069,6.1],[0.085,5],[0.095,4.5],[0.105,4.2],[0.115,3.8],[0.125,3.5],[0.135,3.3],[0.145,3.1],[0.155,2.9],[0.17,2.6],[0.185,2.4],[0.195,2.25],[0.21,2.1],[0.23,1.95],[0.25,1.8],[0.27,1.7],[0.29,1.55],[0.32,1.45],[0.36,1.3],[0.4,1.15],[0.44,1.05],[0.48,0.98],[0.53,0.92],[0.57,0.86],[0.59,0.9],[0.62,0.8],
[0.0145,33],[0.017,36],[0.021,30],[0.024,34],[0.026,25],[0.029,30],[0.033,22],[0.038,19],[0.044,24],[0.047,17],[0.054,13],[0.063,12],[0.072,10],[0.08,9],[0.105,7],[0.115,8.5],[0.135,6.5],[0.145,5.5],[0.155,9],[0.165,4.5],[0.175,6],[0.19,5],[0.2,7],[0.23,3.8],[0.25,5.5],[0.27,3.2],[0.29,4],[0.31,2.6],[0.33,3.4],[0.35,2.2],[0.44,1.6],[0.48,1.9],[0.53,1.5],[0.58,1.7],
[0.63,1.0],[0.66,0.9],[0.7,1.15],[0.74,0.85],[0.77,0.95],[0.82,0.8],[0.87,0.9],[0.92,0.75],[0.97,0.78],[1.02,0.7],[1.08,0.82],[1.12,0.68],[1.18,0.72],[1.25,0.65],[1.32,0.75],[1.38,0.62],[1.45,0.68],[1.55,0.6],[1.65,0.58],[1.75,0.55],[1.85,0.58],[1.95,0.52],[2.05,0.5],[2.15,0.48],[2.25,0.5],[2.35,0.45],[2.45,0.48],[2.55,0.42],[2.62,0.48],[2.68,0.4],[2.75,0.45],[2.85,0.38],[2.95,0.45],[3.05,0.4],[3.15,0.35],[3.25,0.42],[3.35,0.38],[3.45,0.32],[3.55,0.4],[3.65,0.35],[3.75,0.38],[3.85,0.28],[3.95,0.36],[4.05,0.25],[4.15,0.32],[4.25,0.18],[4.35,0.35],[4.45,0.14],[4.6,0.28],[4.8,0.32],[5.0,0.14],[5.2,0.38],[5.4,0.42],[5.6,0.13]];

// fitted power-law lines: end points
const fitA = [[0.085,0.00095],[6.7,0.051]];
const fitB = [[0.083,11.2],[6.9,7.8]];
const fitC = [[0.48,0.00078],[6.9,0.0065]];
const fitD = [[0.48,1.63],[6.8,1.0]];
const fitE = [[1,0.0071],[6.8,0.018]];
const fitF = [[1,0.71],[6.9,0.26]];
const fitG = [[0.9,0.0058],[6.8,0.0122]];

// equation texts: [coefficient, exponent, R^2]
const eqA = ['0.090','0.919','0.952'];
const eqB = ['9.045','-0.081','0.952'];
const eqC = ['0.014','0.818','0.930'];
const eqD = ['1.388','-0.182','0.930'];
const eqE = ['0.007','0.478','0.702'];
const eqF = ['0.695','-0.522','0.702'];
const eqG = ['0.006','0.381','0.431'];

const titles = ['(a) 1st plate, absolute','(b) 1st plate, percentage','(c) 2nd plate, absolute','(d) 2nd plate, percentage','(e) 3rd plate, absolute','(f) 3rd plate, percentage','(g) 4th plate, absolute','(h) 4th plate, percentage'];
const yNames = ['1st plate(s) [V]','1st plate(s) [%]','2nd plate(s) [V]','2nd plate(s) [%]','3rd plate(s) [V]','3rd plate(s) [%]','4th plate(s) [V]','4th plate(s) [%]'];

// ---------------- LAYOUT / STYLE ----------------
const layout = [
  {box:[85,20,468,230],  eq:[131,43],   title:[10,325],  ng:47},
  {box:[647,19,473,233], eq:[694,126],  title:[590,325], ng:22},
  {box:[84,349,473,233], eq:[131,372],  title:[10,660],  ng:47},
  {box:[647,351,481,237],eq:[856,368],  title:[590,660], ng:22},
  {box:[85,688,473,230], eq:[133,709],  title:[10,995],  ng:47},
  {box:[648,687,480,235],eq:[856,706],  title:[590,995], ng:22},
  {box:[86,1023,479,234],eq:[133,1043], title:[10,1332], ng:47},
  {box:[647,1023,481,235],eq:null,      title:[590,1332],ng:22}
];
const panels = [
  {pts:ptsA, fit:fitA, eq:eqA, yr:yRangeA, yt:yTicksA},
  {pts:ptsB, fit:fitB, eq:eqB, yr:yRangeB, yt:yTicksB},
  {pts:ptsC, fit:fitC, eq:eqC, yr:yRangeC, yt:yTicksC},
  {pts:ptsD, fit:fitD, eq:eqD, yr:yRangeD, yt:yTicksD},
  {pts:ptsE, fit:fitE, eq:eqE, yr:yRangeE, yt:yTicksE},
  {pts:ptsF, fit:fitF, eq:eqF, yr:yRangeF, yt:yTicksF},
  {pts:ptsG, fit:fitG, eq:eqG, yr:yRangeG, yt:yTicksG},
  {pts:ptsH, fit:null, eq:null, yr:yRangeH, yt:yTicksH}
];

const GREEN = '#2f8c66';
const FONT = 'Liberation Sans, Arial, sans-serif';
const LABEL_C = '#4a4a4a';
const MAJOR = '#cdcdcd', MINOR = '#e3e3e3';

function isPow10(v){const l=Math.log10(v);return Math.abs(l-Math.round(l))<1e-9;}
function near(a,b){return Math.abs(a-b)<=Math.abs(b)*1e-6;}
function fmt(v){return String(+(+v).toPrecision(6));}
function minorVals(lo,hi){
  const out=[];
  for(let e=Math.floor(Math.log10(lo))-1;e<=Math.ceil(Math.log10(hi));e++){
    for(let k=2;k<=9;k++){
      const v=+(k*Math.pow(10,e)).toPrecision(6);
      if(v>lo*1.0001&&v<hi/1.0001) out.push(v);
    }
  }
  return out;
}

const nameRich = {
  a:{fontSize:17, lineHeight:25, color:'#444', fontFamily:FONT},
  s:{fontSize:13, lineHeight:13, verticalAlign:'bottom', color:'#444', fontFamily:FONT}
};
const eqRich = {
  t:{fontSize:16, lineHeight:24, fill:GREEN, fontFamily:FONT},
  sup:{fontSize:11.5, lineHeight:12, verticalAlign:'top', fill:GREEN, fontFamily:FONT},
  sub:{fontSize:12.5, lineHeight:12, verticalAlign:'bottom', fill:GREEN, fontFamily:FONT}
};
const mlLabel = {show:true, position:'start', distance:8, color:LABEL_C, fontSize:16, fontFamily:FONT};

const option = {animation:false, backgroundColor:'#fff', grid:[], xAxis:[], yAxis:[], series:[], graphic:[]};

panels.forEach((p,i)=>{
  const L = layout[i];
  option.grid.push({left:L.box[0], top:L.box[1], width:L.box[2], height:L.box[3], show:true, borderColor:'#bdbdbd', borderWidth:1, containLabel:false});
  option.xAxis.push({
    type:'log', logBase:10, gridIndex:i, min:X_RANGE[0], max:X_RANGE[1],
    axisLine:{show:false}, axisTick:{show:false},
    splitLine:{show:true, lineStyle:{color:MAJOR, width:1}},
    axisLabel:{margin:8, color:LABEL_C, fontSize:16, fontFamily:FONT,
      formatter:v=>X_TICK_LABELS.some(t=>near(v,t))?fmt(v):''},
    name:'{a|A}{s|max}{a| [V]}', nameLocation:'middle', nameGap:24,
    nameTextStyle:{rich:nameRich}
  });
  const yt = p.yt;
  option.yAxis.push({
    type:'log', logBase:10, gridIndex:i, min:p.yr[0], max:p.yr[1],
    axisLine:{show:false}, axisTick:{show:false},
    splitLine:{show:true, lineStyle:{color:MAJOR, width:1}},
    axisLabel:{margin:8, color:LABEL_C, fontSize:16, fontFamily:FONT,
      formatter:v=>(isPow10(v)&&yt.some(t=>near(v,t)))?fmt(v):''},
    name:'{a|A}{s|max}{a| '+yNames[i]+'}', nameLocation:'middle', nameGap:L.ng,
    nameTextStyle:{rich:nameRich}
  });
  // minor grid lines (and the non-decade tick labels) as mark lines
  const ml = [];
  minorVals(X_RANGE[0],X_RANGE[1]).forEach(v=>ml.push({xAxis:v}));
  minorVals(p.yr[0],p.yr[1]).forEach(v=>{
    const it={yAxis:v};
    if(yt.some(t=>near(v,t))) it.label=Object.assign({formatter:fmt(v)},mlLabel);
    ml.push(it);
  });
  yt.forEach(t=>{
    if(!isPow10(t) && near(t,p.yr[1])) ml.push({yAxis:t, lineStyle:{color:'#bdbdbd'}, label:Object.assign({formatter:fmt(t)},mlLabel)});
  });
  option.series.push({
    type:'scatter', xAxisIndex:i, yAxisIndex:i, data:p.pts, silent:true, z:3,
    symbol:'circle', symbolSize:4.5,
    itemStyle:{color:'rgba(255,255,255,0)', borderColor:'rgba(38,135,95,0.8)', borderWidth:1},
    markLine:{silent:true, z:1, symbol:['none','none'], animation:false, label:{show:false},
      lineStyle:{color:MINOR, width:1, type:'solid'}, emphasis:{disabled:true}, data:ml}
  });
  if(p.fit){
    option.series.push({type:'line', xAxisIndex:i, yAxisIndex:i, data:p.fit, showSymbol:false, symbol:'none', silent:true, z:4,
      lineStyle:{color:'#2a6c50', width:1.2}});
  }
  if(p.eq){
    option.graphic.push({type:'text', x:L.eq[0], y:L.eq[1], silent:true, z:10,
      style:{text:'{t|y}{sub|nav}{t| = '+p.eq[0]+' x}{sup|'+p.eq[1]+'}{t| / R}{sup|2}{t| = '+p.eq[2]+'}',
        rich:eqRich, align:'left', verticalAlign:'middle', fill:GREEN}});
  }
  option.graphic.push({type:'text', x:L.title[0], y:L.title[1], silent:true,
    style:{text:titles[i], fontSize:22, fontFamily:'DejaVu Serif, serif', fill:'#222', align:'left', verticalAlign:'middle'}});
});

const chart = echarts.init(document.getElementById('c'), null, {renderer:'canvas'});
chart.setOption(option);
</script>
</body></html>
